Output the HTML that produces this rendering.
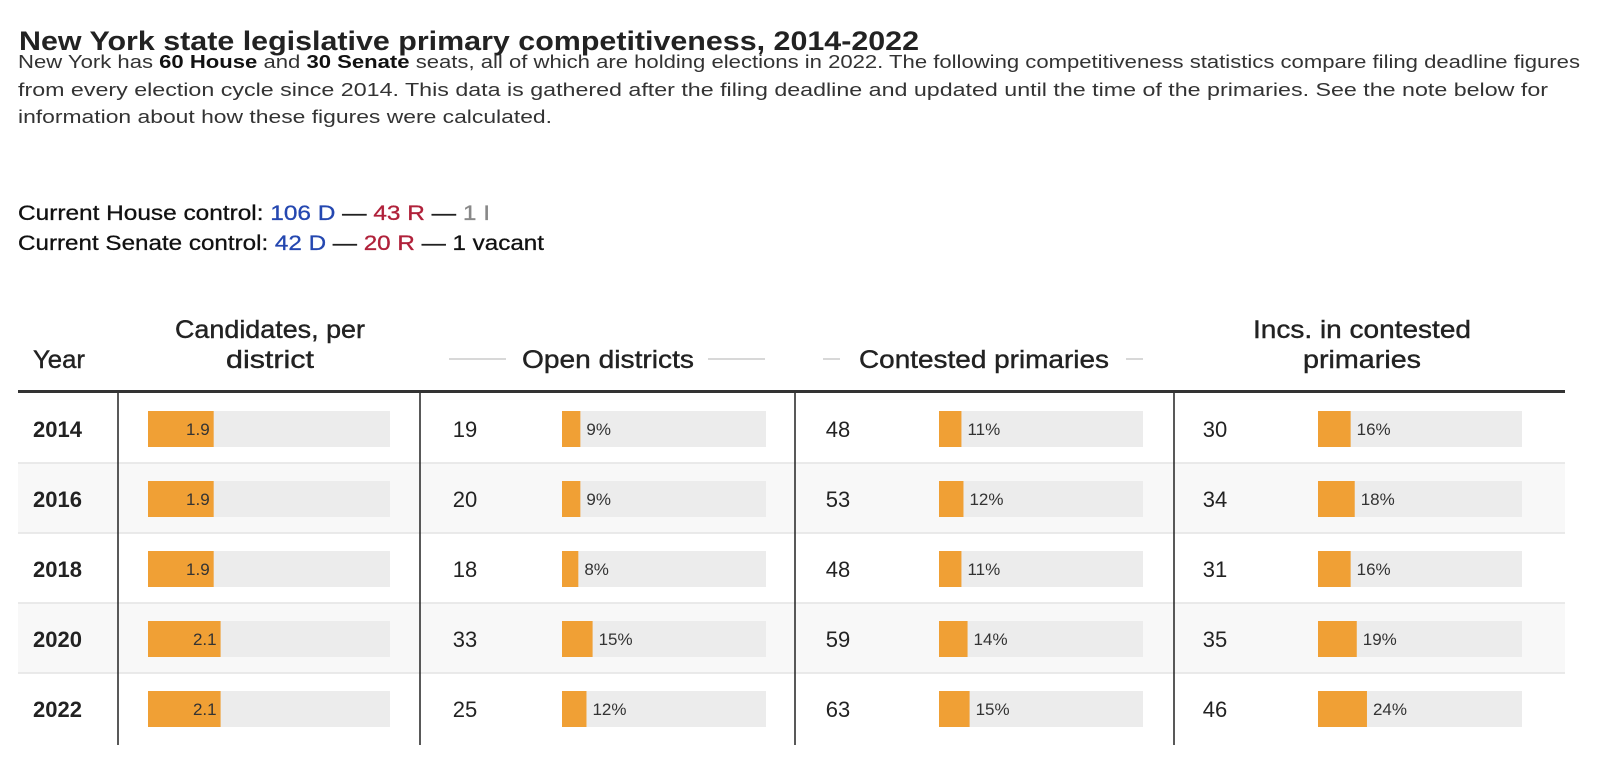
<!DOCTYPE html>
<html><head><meta charset="utf-8"><style>
html,body{margin:0;padding:0;background:#fff;width:1600px;height:778px;overflow:hidden;}
svg{display:block;font-family:"Liberation Sans",sans-serif;}
</style></head><body>
<svg id="c" width="1600" height="778" viewBox="0 0 1600 778">
<text x="19" y="50" font-size="27" font-weight="bold" fill="#222" textLength="900" lengthAdjust="spacingAndGlyphs">New York state legislative primary competitiveness, 2014-2022</text>
<g font-size="18" fill="#333">
<text x="18" y="68" textLength="1562" lengthAdjust="spacingAndGlyphs">New York has <tspan font-weight="bold" fill="#111">60 House</tspan> and <tspan font-weight="bold" fill="#111">30 Senate</tspan> seats, all of which are holding elections in 2022. The following competitiveness statistics compare filing deadline figures</text>
<text x="18" y="96" textLength="1530" lengthAdjust="spacingAndGlyphs">from every election cycle since 2014. This data is gathered after the filing deadline and updated until the time of the primaries. See the note below for</text>
<text x="18" y="123" textLength="534" lengthAdjust="spacingAndGlyphs">information about how these figures were calculated.</text>
</g>
<g font-size="21" fill="#111" stroke="#111" stroke-width="0.3">
<text x="18" y="220" textLength="472" lengthAdjust="spacingAndGlyphs">Current House control: <tspan fill="#2447b0" stroke="#2447b0">106 D</tspan> — <tspan fill="#b0213a" stroke="#b0213a">43 R</tspan> — <tspan fill="#888" stroke="#888">1 I</tspan></text>
<text x="18" y="250" textLength="526" lengthAdjust="spacingAndGlyphs">Current Senate control: <tspan fill="#2447b0" stroke="#2447b0">42 D</tspan> — <tspan fill="#b0213a" stroke="#b0213a">20 R</tspan> — 1 vacant</text>
</g>
<g font-size="25" fill="#222" stroke="#222" stroke-width="0.4" text-anchor="middle">
<text x="59" y="368" textLength="52" lengthAdjust="spacingAndGlyphs">Year</text>
<text x="270" y="338" textLength="190" lengthAdjust="spacingAndGlyphs">Candidates, per</text>
<text x="270" y="368" textLength="88" lengthAdjust="spacingAndGlyphs">district</text>
<text x="608" y="368" textLength="172" lengthAdjust="spacingAndGlyphs">Open districts</text>
<text x="984" y="368" textLength="250" lengthAdjust="spacingAndGlyphs">Contested primaries</text>
<text x="1362" y="338" textLength="218" lengthAdjust="spacingAndGlyphs">Incs. in contested</text>
<text x="1362" y="368" textLength="118" lengthAdjust="spacingAndGlyphs">primaries</text>
</g>
<g stroke="#ccc" stroke-width="1.5">
<line x1="449" y1="359" x2="506" y2="359"/><line x1="708" y1="359" x2="765" y2="359"/>
<line x1="823" y1="359" x2="840" y2="359"/><line x1="1126" y1="359" x2="1143" y2="359"/>
</g>
<g id="rows"></g>
<rect x="18" y="390" width="1547" height="3" fill="#333"/>
<g id="vlines" stroke="#222" stroke-width="1.5"></g>
</svg>
<script>
const years=["2014","2016","2018","2020","2022"];
const candidates=[1.9,1.9,1.9,2.1,2.1];
const openCount=[19,20,18,33,25];
const openPct=[9,9,8,15,12];
const contestedCount=[48,53,48,59,63];
const contestedPct=[11,12,11,14,15];
const incCount=[30,34,31,35,46];
const incPct=[16,18,16,19,24];
const candMax=7;
const NS="http://www.w3.org/2000/svg";
function mk(t,a,p){const e=document.createElementNS(NS,t);for(const k in a)e.setAttribute(k,a[k]);p.appendChild(e);return e;}
const rows=document.getElementById('rows');
const rowTop=393,rowH=70;
const candX=148,candW=242;
const pctCols=[[465,562,openCount,openPct,'open'],[838,939,contestedCount,contestedPct,'contested'],[1215,1318,incCount,incPct,'incumbents']];
const pctW=204;
function xc(v){return candW*v/candMax;}
function xp(v){return pctW*v/100;}
years.forEach((y,i)=>{
  const top=rowTop+i*rowH, cy=top+rowH/2+1;
  const g=mk('g',{},rows);
  
  
  if(i%2==1) mk('rect',{x:18,y:top,width:1547,height:rowH,fill:'#f8f8f8'},g);
  if(i>0) mk('line',{x1:18,x2:1565,y1:top,y2:top,stroke:'#e4e4e4','stroke-width':1.5},g);
  const yt=mk('text',{x:33,y:cy+8,'font-size':22,'font-weight':'bold',fill:'#222'},g);
  yt.textContent=y;
  
  
  const tr=mk('rect',{x:candX,y:cy-18,width:candW,height:36,fill:'#ececec'},g);
  
  
  const b=mk('rect',{x:candX,y:cy-18,width:xc(candidates[i]),height:36,fill:'#f0a035'},g);
  
  
  const bt=mk('text',{x:candX+xc(candidates[i])-4,y:cy+6,'font-size':17,fill:'#333','text-anchor':'end'},g);
  bt.textContent=candidates[i].toFixed(1);
  pctCols.forEach(([nx,bx,cnt,pct,nm])=>{
    const nt=mk('text',{x:nx,y:cy+8,'font-size':22,fill:'#222','text-anchor':'middle'},g);
    nt.textContent=cnt[i];
    
    
    mk('rect',{x:bx,y:cy-18,width:pctW,height:36,fill:'#ececec'},g);
    const pb=mk('rect',{x:bx,y:cy-18,width:xp(pct[i]),height:36,fill:'#f0a035'},g);
    
    
    const pt=mk('text',{x:bx+xp(pct[i])+6,y:cy+6,'font-size':17,fill:'#333'},g);
    pt.textContent=pct[i]+'%';
  });
});
const vl=document.getElementById('vlines');
[118,420,795,1174].forEach(x=>mk('line',{x1:x,x2:x,y1:393,y2:rowTop+years.length*rowH+2},vl));
</script>
</body></html>
